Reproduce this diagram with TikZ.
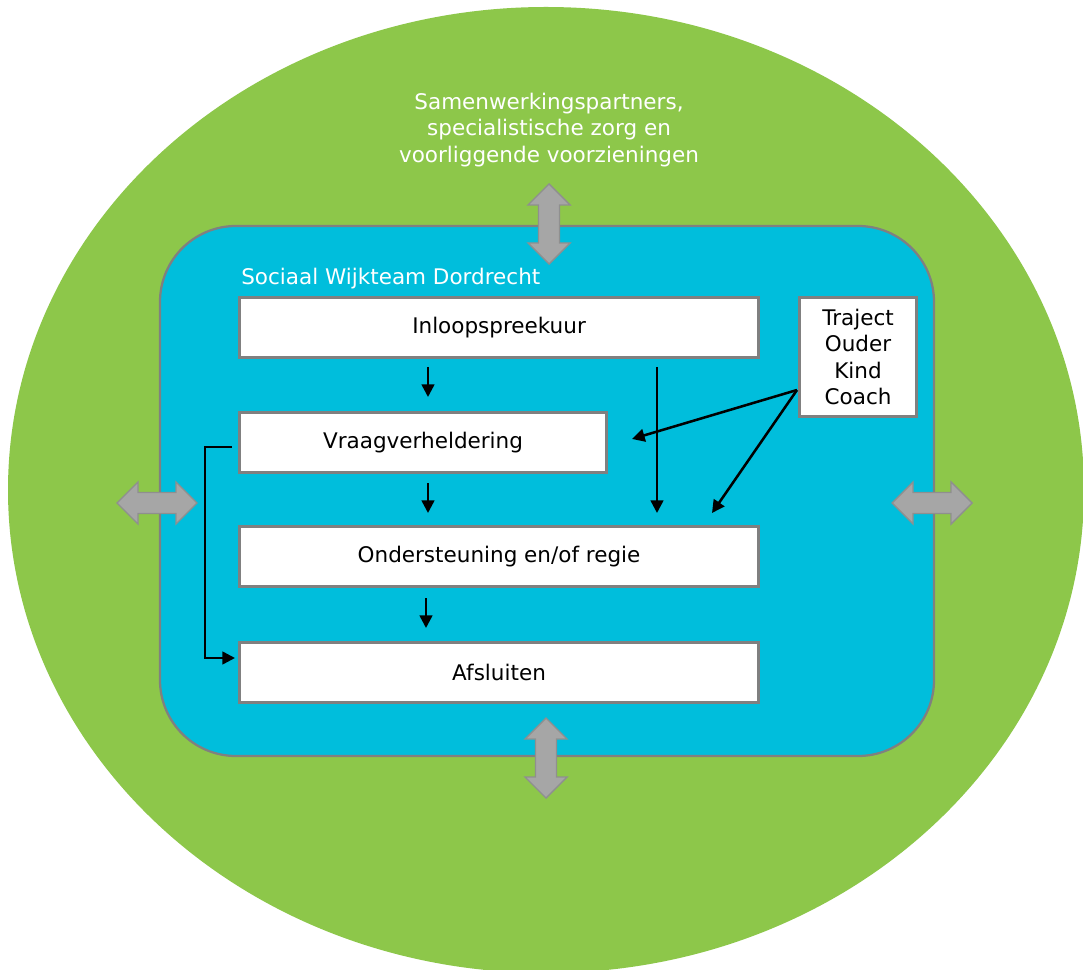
\documentclass[tikz,border=0pt]{standalone}
\usepackage{fontspec}
\setmainfont{DejaVu Sans}
\usetikzlibrary{arrows.meta}
\definecolor{outergreen}{HTML}{8DC74A}
\definecolor{innerblue}{HTML}{00BEDC}
\definecolor{boxgray}{HTML}{808080}
\definecolor{arrgray}{HTML}{A6A6A6}
\definecolor{arrline}{HTML}{8F8F8F}
\tikzset{
  stepbox/.style={draw=boxgray, line width=2.2pt, fill=white, inner sep=0pt, anchor=north west,
    font=\fontsize{15.3}{18.8}\selectfont, text=black},
  flow/.style={draw=black, line width=1.8pt, -{Triangle[length=9pt,width=9pt]}},
  lbl/.style={text=white, font=\fontsize{15.3}{18.8}\selectfont, inner sep=0pt},
  pics/dblarrow/.style={code={
    \draw[fill=arrgray, draw=arrline, line width=1pt]
      (-40,0) -- (-19,21) -- (-19,10.5) -- (19,10.5) -- (19,21) -- (40,0)
      -- (19,-21) -- (19,-10.5) -- (-19,-10.5) -- (-19,-21) -- cycle;
  }}
}
\begin{document}
\begin{tikzpicture}[x=0.025cm, y=-0.025cm]
\useasboundingbox (0,0) rectangle (1083,970);
\fill[white] (0,0) rectangle (1083,970);
% outer ellipse
\fill[outergreen] (546,490) ellipse [x radius=538, y radius=483];
% inner rounded rectangle
\draw[fill=innerblue, draw=boxgray, line width=1.6pt, rounded corners=54pt]
  (160,226) rectangle (934,756);
% texts
\node[lbl, align=center] (partners) at (549,130)
  {Samenwerkingspartners,\\specialistische zorg en\\voorliggende voorzieningen};
\node[lbl, anchor=west] (team) at (241,279) {Sociaal Wijkteam Dordrecht};
% step boxes
\node[stepbox, minimum width=519*0.025cm, minimum height=60*0.025cm] (inloop) at (238,296) {Inloopspreekuur};
\node[stepbox, minimum width=367*0.025cm, minimum height=60*0.025cm] (vraag) at (238,411) {Vraagverheldering};
\node[stepbox, minimum width=519*0.025cm, minimum height=60*0.025cm] (onder) at (238,525) {Ondersteuning en/of regie};
\node[stepbox, minimum width=519*0.025cm, minimum height=60*0.025cm] (afsl) at (238,641) {Afsluiten};
\node[stepbox, minimum width=117*0.025cm, minimum height=119*0.025cm, align=center] (toek) at (798,296) {Traject\\Ouder\\Kind\\Coach};
% coordinates for connectors
\coordinate (a1s) at (428,367); \coordinate (a1e) at (428,397);
\coordinate (a2s) at (428,483); \coordinate (a2e) at (428,513);
\coordinate (a3s) at (426,598); \coordinate (a3e) at (426,628);
\coordinate (a4s) at (657,367); \coordinate (a4e) at (657,513);
\coordinate (tk) at (797,390);
\coordinate (t1e) at (632,439);
\coordinate (t2e) at (712,513);
\coordinate (bs) at (232,447); \coordinate (be) at (235,658);
\draw[flow] (a1s) -- (a1e);
\draw[flow] (a2s) -- (a2e);
\draw[flow] (a3s) -- (a3e);
\draw[flow] (a4s) -- (a4e);
\draw[flow] (tk) -- (t1e);
\draw[flow] (tk) -- (t2e);
\draw[flow] (bs) -- (205,447) -- (205,658) -- (be);
% gray double arrows
\pic at (549,224) [rotate=90] {dblarrow};
\pic at (546,758) [rotate=90] {dblarrow};
\pic at (157,503) {dblarrow};
\pic at (932,503) {dblarrow};
\end{tikzpicture}
\end{document}
